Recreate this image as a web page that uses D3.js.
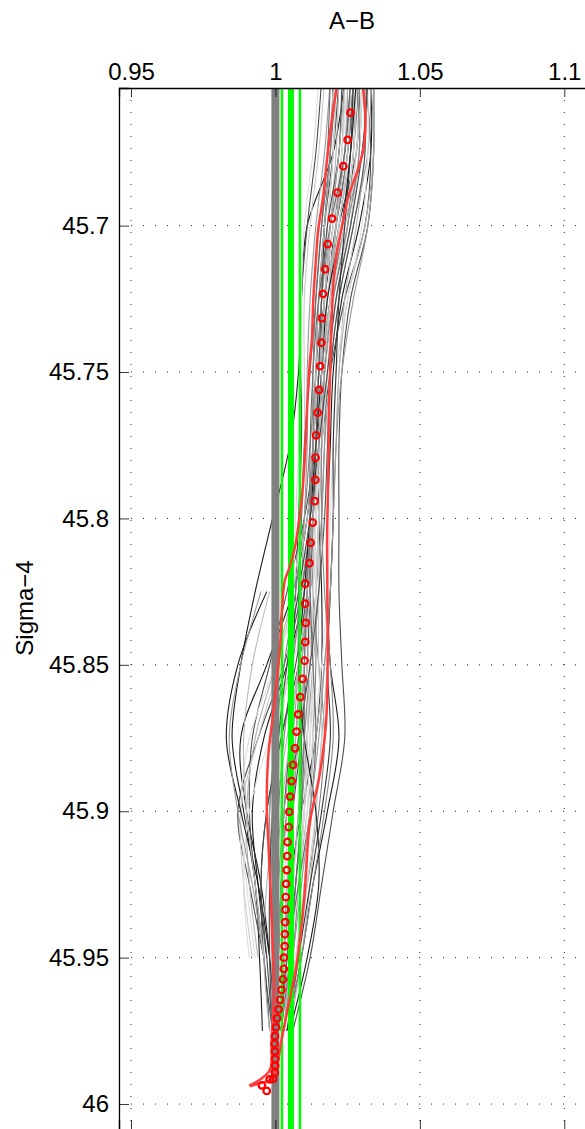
<!DOCTYPE html>
<html><head><meta charset="utf-8">
<script src="https://cdn.jsdelivr.net/npm/d3@7"></script>
<style>
html,body{margin:0;background:#fff;overflow:hidden}
svg{display:block}
text{font-family:"Liberation Sans",Arial,Helvetica,sans-serif}
</style>
</head><body>
<svg id="c" width="585" height="1129"></svg>
<script>
// ---------- DATA ----------
const xTicks = [0.95, 1, 1.05, 1.1];
const xTickLabels = ["0.95", "1", "1.05", "1.1"];
const yTicks = [45.7, 45.75, 45.8, 45.85, 45.9, 45.95, 46];
const yTickLabels = ["45.7", "45.75", "45.8", "45.85", "45.9", "45.95", "46"];
const xDomain = [0.94585, 1.11236];
const yDomain = [45.653, 46.0092];

const refValue = 1.0;                       // gray reference line
const greenValues = [1.00225, 1.00537, 1.00848];

// mean profile (red circles)
const meanSigma = [45.6614,45.6707,45.6797,45.6887,45.6976,45.7063,45.7149,45.7233,45.7316,45.7400,
  45.7480,45.7561,45.7639,45.7716,45.7792,45.7868,45.7941,45.8014,45.8083,45.8153,
  45.8223,45.8291,45.8357,45.8422,45.8486,45.8548,45.8610,45.8669,45.8728,45.8785,
  45.8842,45.8897,45.8950,45.9002,45.9054,45.9105,45.9153,45.9201,45.9248,45.9293,
  45.9336,45.9379,45.9420,45.9461,45.9500,45.9538,45.9574,45.9610,45.9644,45.9677,
  45.9707,45.9738,45.9768,45.9794,45.9820,45.9846,45.9869,45.9892,45.9914,45.9916,
  45.9936,45.9955];
const meanAB = [1.0260,1.0250,1.0235,1.0215,1.0196,1.0181,1.0172,1.0165,1.0161,1.0159,
  1.0155,1.0151,1.0146,1.0141,1.0139,1.0138,1.0136,1.0129,1.0122,1.0118,
  1.0103,1.0103,1.0105,1.0103,1.0101,1.0094,1.0086,1.0079,1.0073,1.0068,
  1.0061,1.0056,1.0051,1.0048,1.0046,1.0042,1.0041,1.0039,1.0037,1.0036,
  1.0035,1.0034,1.0033,1.0032,1.0029,1.0029,1.0026,1.0021,1.0016,1.0011,
  1.0006,1.0002,0.9998,0.9997,0.9998,0.9999,0.9999,0.9998,0.9992,0.9980,
  0.9953,0.9970];

// envelope lines (red)
const leftSigma = [45.653,45.664,45.6788,45.6902,45.7016,45.7118,45.7255,45.7391,45.7469,45.7618,
  45.7789,45.7937,45.8028,45.8096,45.8165,45.8210,45.8278,45.8438,45.8643,45.8814,
  45.8985,45.9098,45.9269,45.9439,45.9610,45.9781,45.9883,45.9917,45.9937];
const leftAB = [1.0212,1.0195,1.0177,1.0165,1.0148,1.0140,1.0131,1.0126,1.0119,1.0110,
  1.0102,1.0091,1.0079,1.0068,1.0050,1.0033,1.0025,1.0016,0.9995,0.9975,
  0.9970,0.9975,0.9983,0.9990,0.9995,0.9987,0.9981,0.9946,0.9909];
const rightSigma = [45.653,45.664,45.6742,45.6822,45.6902,45.6982,45.7096,45.7209,45.7403,45.7618,
  45.7846,45.8074,45.8278,45.8472,45.8700,45.8870,45.9041,45.9269,45.9439,45.9554,
  45.9668,45.9781,45.9873,45.9918,45.9929,45.9939];
const rightAB = [1.0304,1.0312,1.0304,1.0281,1.0252,1.0235,1.0212,1.0200,1.0192,1.0186,
  1.0183,1.0179,1.0180,1.0181,1.0175,1.0154,1.0119,1.0102,1.0085,1.0068,
  1.0044,1.0021,1.0004,0.9981,0.9946,0.9912];

// individual profiles (gray lines), values at profileLevels
const profileLevels = [45.650,45.675,45.70,45.725,45.75,45.775,45.80,45.825,45.85,45.875,45.90,45.925,45.95,45.975,45.99];
const profiles = [
 [1.027,1.025,1.021,1.017,1.015,1.013,1.011,1.006,0.997,0.988,0.990,0.995,0.998,1.000,null],
 [1.024,1.020,1.011,1.009,1.008,1.005,0.999,0.993,0.988,0.985,0.989,0.993,0.9945,0.9955,null],
 [1.033,1.033,1.029,1.023,1.020,1.019,1.018,1.018,1.019,1.022,1.018,1.013,1.009,1.004,null],
 [1.020,1.019,1.017,1.016,1.015,1.014,1.013,1.010,1.004,0.996,0.992,0.994,0.997,null,null],
 [1.029,1.028,1.022,1.019,1.016,1.015,1.015,1.016,1.016,1.014,1.009,1.005,1.003,1.001,1.000],
 [1.031,1.033,1.031,1.024,1.019,1.016,1.014,1.012,1.008,1.002,0.997,0.995,0.996,0.999,null],
 [1.026,1.024,1.020,1.017,1.015,1.014,1.013,1.012,1.011,1.009,1.006,1.004,1.003,1.002,null],
 [1.022,1.020,1.017,1.015,1.014,1.013,1.012,1.009,1.003,0.994,0.987,0.991,0.996,null,null],
 [1.034,1.034,1.032,1.026,1.023,1.022,1.022,1.022,1.023,1.024,1.020,1.016,1.012,1.006,null],
 [1.028,1.027,1.025,1.020,1.017,1.014,1.010,1.004,0.998,0.992,0.991,0.993,0.996,0.998,null],
 [1.016,1.014,1.011,1.009,1.009,1.009,1.008,1.007,1.006,1.005,1.003,1.002,1.001,null,null],
 [1.025,1.024,1.020,1.017,1.016,1.015,1.014,1.013,1.012,1.011,1.010,1.008,1.006,1.003,null],
 [1.030,1.029,1.026,1.021,1.018,1.017,1.016,1.014,1.012,1.010,1.008,1.006,1.004,1.002,null],
 [1.023,1.022,1.019,1.016,1.015,1.014,1.012,1.009,1.006,1.003,1.001,1.000,0.999,null,null],
 [1.032,1.030,1.024,1.019,1.017,1.016,1.015,1.014,1.014,1.013,1.012,1.010,1.008,1.004,null],
 [1.027,1.025,1.021,1.018,1.016,1.015,1.014,1.012,1.009,1.007,1.006,1.005,1.004,1.002,null],
 [1.021,1.020,1.018,1.016,1.014,1.012,1.010,1.007,1.003,1.000,0.998,0.999,1.000,null,null],
 [1.029,1.027,1.024,1.019,1.016,1.014,1.013,1.013,1.015,1.017,1.015,1.011,1.007,1.003,null],
 [1.026,1.025,1.022,1.018,1.015,1.013,1.012,1.011,1.010,1.008,1.006,1.005,1.003,1.001,null],
 [1.033,1.032,1.027,1.022,1.019,1.017,1.016,1.015,1.013,1.011,1.009,1.007,1.005,1.003,null],
 [1.019,1.017,1.014,1.012,1.011,1.011,1.010,1.009,1.008,1.006,1.003,1.001,1.000,null,null],
 [1.024,1.023,1.021,1.019,1.017,1.015,1.013,1.010,1.005,1.001,0.998,0.998,0.999,null,null],
 [1.028,1.026,1.022,1.019,1.017,1.016,1.015,1.014,1.013,1.012,1.010,1.007,1.005,1.003,null],
 [1.031,1.031,1.028,1.024,1.022,1.021,1.020,1.019,1.018,1.016,1.014,1.012,1.009,1.005,null],
 [1.022,1.021,1.019,1.017,1.015,1.013,1.011,1.006,1.000,0.993,0.990,0.991,0.994,null,null],
 [1.025,1.024,1.021,1.018,1.016,1.015,1.014,1.012,1.010,1.009,1.008,1.006,1.004,1.002,null],
 [1.034,1.034,1.031,1.025,1.022,1.021,1.020,1.019,1.017,1.014,1.011,1.008,1.005,null,null],
 [1.020,1.019,1.017,1.015,1.014,1.013,1.012,1.010,1.008,1.005,1.002,1.000,0.999,null,null],
 [1.027,1.026,1.023,1.019,1.016,1.015,1.013,1.011,1.008,1.004,1.000,0.997,0.996,0.998,null],
 [1.030,1.028,1.024,1.020,1.018,1.016,1.015,1.014,1.013,1.013,1.012,1.010,1.007,1.004,null],
 [1.024,1.023,1.020,1.017,1.016,1.015,1.014,1.013,1.011,1.008,1.005,1.003,1.002,null,null],
 [1.017,1.015,1.012,1.010,1.010,1.010,1.009,1.006,1.001,0.994,0.988,0.989,0.992,null,null],
 [1.029,1.028,1.025,1.021,1.018,1.016,1.015,1.015,1.015,1.016,1.014,1.011,1.008,1.004,null],
 [1.026,1.025,1.022,1.019,1.017,1.016,1.014,1.012,1.010,1.007,1.005,1.004,1.003,1.001,null],
 [1.021,1.020,1.018,1.016,1.015,1.014,1.013,1.011,1.006,0.998,0.991,0.989,0.991,null,null],
 [1.032,1.032,1.030,1.025,1.021,1.020,1.019,1.018,1.016,1.013,1.009,1.006,1.004,1.002,null],
 [1.015,1.013,1.010,1.009,1.009,1.008,1.007,1.006,1.004,1.002,1.000,0.999,0.998,null,null],
 [1.028,1.027,1.024,1.020,1.017,1.015,1.014,1.013,1.012,1.011,1.010,1.008,1.005,1.002,null],
 [1.025,1.023,1.020,1.018,1.016,1.014,1.012,1.008,1.000,0.991,0.988,0.990,0.993,null,null],
 [1.030,1.029,1.026,1.021,1.018,1.016,1.014,1.014,1.013,1.012,1.011,1.009,1.007,1.004,null],
 [null,null,null,null,null,null,null,0.997,0.987,0.983,0.988,0.994,0.998,null,null],
 [null,null,null,null,null,null,null,0.995,0.988,0.984,0.987,0.992,0.996,null,null],
 [1.028,1.026,1.023,1.018,1.016,1.014,1.012,1.010,1.008,1.010,1.014,1.015,1.011,1.005,null],
 [1.023,1.022,1.018,1.016,1.015,1.014,1.013,1.011,1.007,1.002,0.997,0.995,0.997,0.999,1.000],
 [1.026,1.024,1.019,1.015,1.013,1.012,1.012,1.012,1.013,1.014,1.012,1.008,1.004,1.001,null],
 [1.030,1.031,1.027,1.022,1.019,1.018,1.017,1.015,1.012,1.008,1.004,1.002,1.001,1.000,null],
 [1.021,1.019,1.016,1.014,1.013,1.013,1.012,1.011,1.010,1.010,1.009,1.007,1.005,1.002,null],
 [1.028,1.029,1.025,1.020,1.017,1.016,1.016,1.017,1.019,1.020,1.017,1.013,1.009,1.004,null],
 [1.032,1.030,1.026,1.021,1.018,1.015,1.012,1.008,1.004,1.001,0.999,0.998,0.998,0.999,null],
 [1.024,1.022,1.019,1.017,1.016,1.015,1.013,1.011,1.009,1.007,1.004,1.002,1.001,null,null],
 [1.019,1.018,1.016,1.014,1.012,1.010,1.009,1.008,1.008,1.009,1.009,1.007,1.004,1.002,null],
 [null,null,null,null,null,null,null,0.998,0.992,0.989,0.990,0.993,0.996,null,null],
 [1.027,1.026,1.024,1.022,1.021,1.020,1.020,1.019,1.018,1.019,1.016,1.012,1.008,1.004,null],
 [1.033,1.034,1.032,1.027,1.023,1.021,1.020,1.019,1.017,1.015,1.012,1.009,1.006,1.003,null]
];
// line shades (style)
const profileColors = ["#1a1a1a","#1a1a1a","#1a1a1a","#1a1a1a","#1a1a1a","#4d4d4d","#4d4d4d","#4d4d4d","#4d4d4d","#4d4d4d",
  "#4d4d4d","#808080","#808080","#808080","#808080","#808080","#808080","#808080","#999999","#999999",
  "#999999","#999999","#b3b3b3","#b3b3b3","#b3b3b3","#b3b3b3","#b3b3b3","#b3b3b3","#b3b3b3","#cccccc",
  "#cccccc","#cccccc","#cccccc","#cccccc","#dddddd","#dddddd","#dddddd","#dddddd","#dddddd","#e0e0e0",
  "#1a1a1a","#999999","#1a1a1a","#4d4d4d","#666666","#555555","#777777","#888888","#444444","#aaaaaa",
  "#666666","#bbbbbb","#333333","#999999"];

// ---------- DRAW ----------
const L = 119, T = 88, R = 600, B = 1131;
const svg = d3.select("#c");
const x = d3.scaleLinear().domain(xDomain).range([L, R]);
const y = d3.scaleLinear().domain(yDomain).range([T, B]);
const FS = 24;

svg.append("defs").append("clipPath").attr("id","clip")
  .append("rect").attr("x",L).attr("y",T).attr("width",R-L).attr("height",B-T);

// grid (dotted)
const grid = svg.append("g");
grid.selectAll("line.gx").data(xTicks).join("line")
  .attr("x1",d=>x(d)).attr("x2",d=>x(d)).attr("y1",T).attr("y2",B)
  .attr("stroke","#222").attr("stroke-width",1).attr("stroke-dasharray","1,11");
grid.selectAll("line.gy").data(yTicks).join("line")
  .attr("y1",d=>y(d)).attr("y2",d=>y(d)).attr("x1",L).attr("x2",R)
  .attr("stroke","#222").attr("stroke-width",1).attr("stroke-dasharray","1,11");

const plot = svg.append("g").attr("clip-path","url(#clip)");

// profiles
const line = d3.line().defined(d=>d[0]!=null).x(d=>x(d[0])).y(d=>y(d[1])).curve(d3.curveCatmullRom.alpha(0.5));
plot.selectAll("path.prof").data(profiles).join("path")
  .attr("class","prof")
  .attr("d",p=>line(p.map((v,i)=>[v,profileLevels[i]])))
  .attr("fill","none")
  .attr("stroke",(p,i)=>profileColors[i % profileColors.length])
  .attr("stroke-width",1.1);

// reference lines
plot.append("line").attr("x1",x(refValue)).attr("x2",x(refValue)).attr("y1",T).attr("y2",B)
  .attr("stroke","#808080").attr("stroke-width",8);
plot.selectAll("line.green").data(greenValues).join("line")
  .attr("x1",d=>x(d)).attr("x2",d=>x(d)).attr("y1",T).attr("y2",B)
  .attr("stroke","#00ff00").attr("stroke-width",(d,i)=>i===1?6:2.5);

// envelope lines
const lineL = d3.line().x(d=>x(d[0])).y(d=>y(d[1])).curve(d3.curveCatmullRom.alpha(0.5));
plot.append("path").attr("d",lineL(leftAB.map((v,i)=>[v,leftSigma[i]])))
  .attr("fill","none").attr("stroke","#ff3c3c").attr("stroke-width",2.5);
plot.append("path").attr("d",lineL(rightAB.map((v,i)=>[v,rightSigma[i]])))
  .attr("fill","none").attr("stroke","#ff3c3c").attr("stroke-width",2.5);

// mean circles
plot.selectAll("circle.m").data(meanAB.map((v,i)=>[v,meanSigma[i]])).join("circle")
  .attr("cx",d=>x(d[0])).attr("cy",d=>y(d[1])).attr("r",3.3)
  .attr("fill","none").attr("stroke","#ff0000").attr("stroke-width",2.2);

// axes
const axTop = d3.axisTop(x).tickValues(xTicks).tickFormat((d,i)=>xTickLabels[i]).tickSize(-9).tickPadding(8);
const axBot = d3.axisBottom(x).tickValues(xTicks).tickFormat("").tickSize(-11);
const axLeft = d3.axisLeft(y).tickValues(yTicks).tickFormat((d,i)=>yTickLabels[i]).tickSize(-10).tickPadding(10);

function style(g){
  g.select(".domain").attr("stroke","#000").attr("stroke-width",1.3);
  g.selectAll(".tick line").attr("stroke","#000").attr("stroke-width",0.8);
  g.selectAll(".tick text").attr("fill","#000").style("font-size",FS+"px")
    .style("font-family",'"Liberation Sans",Arial,Helvetica,sans-serif');
}
svg.append("g").attr("transform",`translate(0,${T})`).call(axTop).call(style);
svg.append("g").attr("transform",`translate(0,${B})`).call(axBot).call(style);
svg.append("g").attr("transform",`translate(${L},0)`).call(axLeft).call(style);

// titles
svg.append("text").attr("x",352).attr("y",29).attr("text-anchor","middle")
  .style("font-size",FS+"px").text("A\u2212B");
svg.append("text").attr("transform",`translate(33,608) rotate(-90)`).attr("text-anchor","middle")
  .style("font-size",FS+"px").text("Sigma\u22124");
</script>
</body></html>
